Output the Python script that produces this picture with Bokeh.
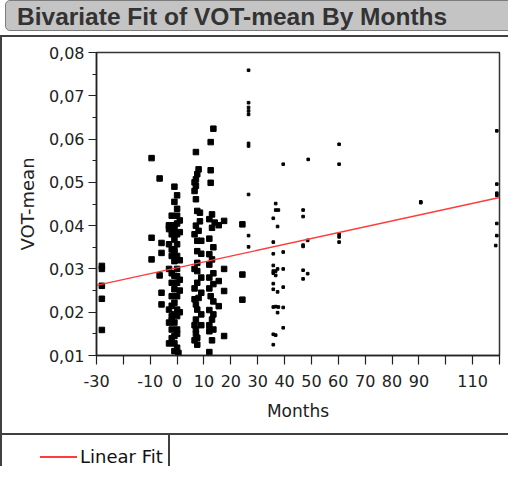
from bokeh.plotting import figure
from bokeh.models import FixedTicker, Div
from bokeh.layouts import column, row
from bokeh.embed import file_html
from bokeh.resources import INLINE

# ---------------- data ----------------
# large square markers (earlier months)
sq_months = [
    -28, -28, -28, -28, -28,
    -9.5, -6.5, -9.5, -9.5, -5.8, -5.8, -6.5, -5.8, -5.8, -3,
    -1, 0, -1, 0, -2, 0, -3, -1, 0, -3, -1, -2, 0, -1, -3, 0, -1, -2, 0, -1,
    -3, 0, -1, -2, 0, -1, -2, 0, -1, -3, 0, -2, 0, -3, -1, -2, 0, -1, -3, -1, -1,
    -2, 1, -2, 1, -2, 1, -2, 1, -2, 1, 0, -2, 0, -1, 0, -1, 1, 0.5,
    7, 8, 7.5, 7, 7, 7, 7.5, 8.5, 7, 8, 7.5, 9, 7.5, 7.5, 7.5, 7.5, 8, 7, 7.5, 7, 7, 7.5, 7.5,
    6.5, 6.5, 8.5, 6.5, 9, 6.5, 9, 6.5, 9, 6.5, 9, 6.5, 9, 7, 6.5,
    13.5, 12.5, 12.5, 12.5, 13, 14, 15.5, 17.5, 12, 13, 17.5, 15.5, 17.5, 12.5, 15.5, 13, 12, 17.5, 12,
    12, 13, 12, 13.5, 12, 13.5, 12, 13.5, 12, 13.5, 12, 13.5, 12, 13.5, 13,
    24.3, 24.3, 24.3,
]
sq_vot = [
    0.0307, 0.0300, 0.0261, 0.0231, 0.0159,
    0.0556, 0.0509, 0.0372, 0.0322, 0.0360, 0.0337, 0.0285, 0.0245, 0.0218, 0.0399,
    0.0490, 0.0470, 0.0455, 0.0439, 0.0423, 0.0423, 0.0401, 0.0401, 0.0405, 0.0392, 0.0390, 0.0380, 0.0380, 0.0368, 0.0357, 0.0357, 0.0345, 0.0330, 0.0330, 0.0318,
    0.0300, 0.0300, 0.0284, 0.0268, 0.0268, 0.0253, 0.0237, 0.0237, 0.0222, 0.0206, 0.0206, 0.0191, 0.0191, 0.0176, 0.0176, 0.0160, 0.0160, 0.0145, 0.0128, 0.0128, 0.0110,
    0.0395, 0.0385, 0.0345, 0.0320, 0.0290, 0.0275, 0.0215, 0.0250, 0.0180, 0.0200, 0.0150, 0.0140, 0.0118, 0.0195, 0.0283, 0.0338, 0.0412, 0.0106,
    0.0570, 0.0530, 0.0519, 0.0507, 0.0492, 0.0461, 0.0434, 0.0430, 0.0400, 0.0388, 0.0365, 0.0365, 0.0341, 0.0314, 0.0295, 0.0268, 0.0233, 0.0218, 0.0206, 0.0183, 0.0160, 0.0141, 0.0125,
    0.0500, 0.0480, 0.0410, 0.0380, 0.0335, 0.0300, 0.0280, 0.0255, 0.0245, 0.0230, 0.0195, 0.0170, 0.0170, 0.0150, 0.0135,
    0.0624, 0.0593, 0.0528, 0.0499, 0.0426, 0.0407, 0.0401, 0.0411, 0.0334, 0.0322, 0.0300, 0.0272, 0.0249, 0.0237, 0.0214, 0.0183, 0.0156, 0.0145, 0.0108,
    0.0415, 0.0395, 0.0370, 0.0350, 0.0310, 0.0290, 0.0280, 0.0265, 0.0255, 0.0225, 0.0205, 0.0195, 0.0170, 0.0160, 0.0135,
    0.0403, 0.0287, 0.0229,
]

# small dot markers (later months)
dot_months = [
    26.6, 26.6, 26.6, 26.6, 26.6, 26.6, 26.6, 26.6, 26.6, 26.6,
    39.5, 36.7, 36.7, 37.7, 35.8, 37.4, 35.8, 39.5, 35.8, 35.8, 37.4, 39.5, 35.8, 36.7, 35.8,
    36.7, 35.8, 39.5, 35.8, 37.4, 35.8, 36.7, 37.7, 39.5, 37.4, 39.5, 35.8, 36.7, 35.8,
    48.8, 46.9, 46.9, 46.9, 46.9, 48.6, 46.9, 48.6, 46.9,
    60.3, 60.3, 60.3, 60.3, 60.3,
    90.7, 90.7,
    119, 119, 119, 119, 119, 119, 118.6,
]
dot_vot = [
    0.0759, 0.0684, 0.0673, 0.0665, 0.0657, 0.0590, 0.0584, 0.0472, 0.0377, 0.0351,
    0.0542, 0.0451, 0.0436, 0.0436, 0.0417, 0.0398, 0.0362, 0.0339, 0.0335, 0.0308, 0.0300, 0.0300, 0.0295, 0.0295, 0.0290,
    0.0285, 0.0266, 0.0258, 0.0253, 0.0247, 0.0212, 0.0213, 0.0212, 0.0211, 0.0199, 0.0164, 0.0149, 0.0147, 0.0125,
    0.0553, 0.0436, 0.0421, 0.0355, 0.0352, 0.0366, 0.0297, 0.0289, 0.0277,
    0.0588, 0.0542, 0.0380, 0.0374, 0.0362,
    0.0453, 0.0455,
    0.0619, 0.0496, 0.0475, 0.0470, 0.0405, 0.0377, 0.0354,
]

# linear fit end points
fit_months = [-30, 120]
fit_vot = [0.0262, 0.0465]

x_ticks = [-30, -20, -10, 0, 10, 20, 30, 40, 50, 60, 70, 80, 90, 100, 110, 120]
x_tick_labels = ["-30", "", "-10", "0", "10", "20", "30", "40", "50", "60", "70", "80", "90", "", "110", ""]
y_ticks = [0.01, 0.02, 0.03, 0.04, 0.05, 0.06, 0.07, 0.08]
y_tick_labels = ["0,01", "0,02", "0,03", "0,04", "0,05", "0,06", "0,07", "0,08"]
y_minor = [0.015, 0.025, 0.035, 0.045, 0.055, 0.065, 0.075]

title_text = "Bivariate Fit of VOT-mean By Months"
x_label = "Months"
y_label = "VOT-mean"
legend_label = "Linear Fit"

FONT = "DejaVu Sans"
INK = "#222222"
FRAME = "#404040"
RED = "#ff3b3b"

# ---------------- figure ----------------
p = figure(width=506, height=396, x_range=(-30, 120), y_range=(0.01, 0.08),
           output_backend="svg", toolbar_location=None,
           min_border_left=94, min_border_right=9, min_border_top=15, min_border_bottom=78)
p.margin = 0
p.xgrid.visible = False
p.ygrid.visible = False
p.outline_line_color = "#333333"
p.outline_line_width = 1.5
p.background_fill_color = "white"
p.border_fill_color = "white"

p.xaxis.ticker = FixedTicker(ticks=x_ticks)
p.xaxis.major_label_overrides = dict(zip(x_ticks, x_tick_labels))
p.yaxis.ticker = FixedTicker(ticks=y_ticks, minor_ticks=y_minor)
p.yaxis.major_label_overrides = dict(zip(y_ticks, y_tick_labels))
p.xaxis.axis_label = x_label
p.yaxis.axis_label = y_label

for ax in (p.xaxis[0], p.yaxis[0]):
    ax.axis_line_color = INK
    ax.axis_line_width = 1.5
    ax.major_tick_line_color = INK
    ax.major_tick_line_width = 1.2
    ax.minor_tick_line_color = INK
    ax.minor_tick_line_width = 1.2
    ax.major_tick_in = 0
    ax.minor_tick_in = 0
    ax.minor_tick_out = 4
    ax.major_label_text_font = FONT
    ax.major_label_text_font_size = "16px"
    ax.major_label_text_color = INK
    ax.axis_label_text_font = FONT
    ax.axis_label_text_font_style = "normal"
    ax.axis_label_text_color = INK

p.xaxis.major_tick_out = 9
p.yaxis.major_tick_out = 8
p.xaxis.major_label_standoff = 10
p.yaxis.major_label_standoff = 4
p.xaxis.axis_label_standoff = 11
p.yaxis.axis_label_standoff = 8
p.xaxis.axis_label_text_font_size = "17px"
p.yaxis.axis_label_text_font_size = "18px"

p.scatter(sq_months, sq_vot, marker="square", size=5.5, color="black")
p.scatter(dot_months, dot_vot, marker="square", size=2.6, color="black")
p.line(fit_months, fit_vot, color=RED, line_width=1.3)

# ---------------- frame decorations (JMP-style report panel) ----------------
title_html = f"""
<div style="position:relative;width:508px;height:37px;overflow:hidden;">
  <div style="position:absolute;left:5px;top:0px;width:520px;height:31px;background:#c4c4c4;
              border:1px solid #7c7c7c;border-radius:5px;"></div>
  <div style="position:absolute;left:17px;top:0px;height:33px;line-height:33px;font-family:'Liberation Sans';
              font-weight:bold;font-size:24.5px;color:#333333;white-space:nowrap;">{title_text}</div>
  <div style="position:absolute;left:0px;top:35px;width:508px;height:2px;background:{FRAME};"></div>
</div>"""
title_div = Div(text=title_html, width=508, height=37, margin=0)

left_border = Div(text="", width=2, height=396, margin=0, styles={"background-color": FRAME})

legend_html = f"""
<div style="position:relative;width:508px;height:33px;overflow:hidden;">
  <div style="position:absolute;left:0px;top:0px;width:508px;height:2px;background:{FRAME};"></div>
  <div style="position:absolute;left:0px;top:0px;width:2px;height:33px;background:{FRAME};"></div>
  <div style="position:absolute;left:168px;top:0px;width:2px;height:33px;background:{FRAME};"></div>
  <div style="position:absolute;left:40px;top:23px;width:37px;height:2px;background:{RED};"></div>
  <div style="position:absolute;left:80px;top:14px;height:20px;line-height:20px;font-family:'{FONT}';
              font-size:18px;color:#111;white-space:nowrap;">{legend_label}</div>
</div>"""
legend_div = Div(text=legend_html, width=508, height=33, margin=0)

layout = column(title_div, row(left_border, p, spacing=0, margin=0), legend_div, spacing=0, margin=0)

open("out.html", "w").write(file_html(layout, INLINE))
